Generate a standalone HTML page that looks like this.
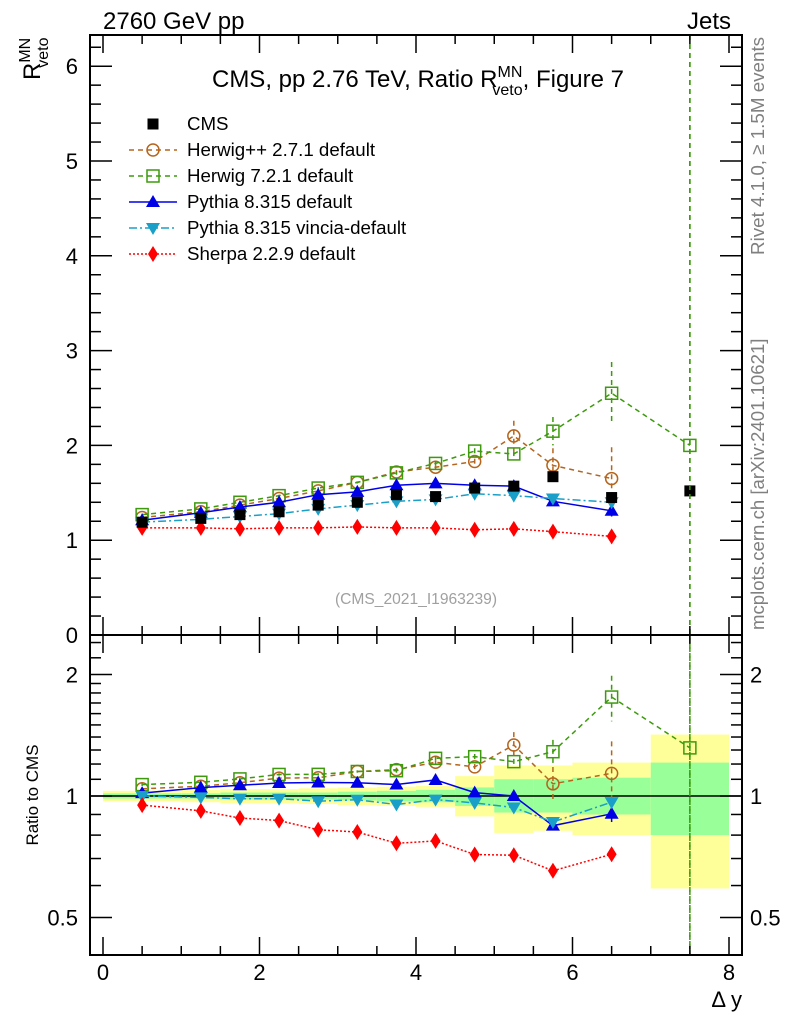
<!DOCTYPE html>
<html><head><meta charset="utf-8"><style>
body{margin:0;background:#fff;width:786px;height:1024px;overflow:hidden}
svg text{font-family:"Liberation Sans",sans-serif}
</style></head><body>
<svg id="chart" width="786" height="1024" xmlns="http://www.w3.org/2000/svg">
<g id="bands"></g><g id="grid"></g><g id="series"></g><g id="axes"></g>
<text x="103" y="29" font-size="24">2760 GeV pp</text>
<text x="731" y="29" font-size="24" text-anchor="end">Jets</text>
<text x="418" y="87" font-size="24" text-anchor="middle">CMS, pp 2.76 TeV, Ratio R<tspan font-size="16" dy="-10">MN</tspan><tspan font-size="16" dx="-30" dy="18">veto</tspan><tspan dy="-8">, Figure 7</tspan></text>
<text transform="translate(40,80) rotate(-90)" font-size="24">R<tspan font-size="16" dy="-10">MN</tspan><tspan font-size="16" dx="-30" dy="18">veto</tspan></text>
<text transform="translate(38,795) rotate(-90)" font-size="17" text-anchor="middle">Ratio to CMS</text>
<text x="742" y="1007" font-size="22" text-anchor="end">Δ y</text>
<text x="416" y="604" font-size="15.6" fill="#a0a0a0" text-anchor="middle">(CMS_2021_I1963239)</text>
<text transform="translate(764,255) rotate(-90)" font-size="18.8" fill="#808080">Rivet 4.1.0, ≥ 1.5M events</text>
<text transform="translate(764,630) rotate(-90)" font-size="18.6" fill="#808080">mcplots.cern.ch [arXiv:2401.10621]</text>
<g id="legend"></g>
</svg>
<script>
const xCenters=[0.5,1.25,1.75,2.25,2.75,3.25,3.75,4.25,4.75,5.25,5.75,6.5,7.5];
const binEdges=[0,1,1.5,2,2.5,3,3.5,4,4.5,5,5.5,6,7,8];
const cmsVals=[1.19,1.23,1.27,1.30,1.37,1.40,1.48,1.46,1.55,1.57,1.67,1.45,1.52];
const herwigppVals=[1.24,1.30,1.37,1.44,1.52,1.61,1.72,1.77,1.83,2.10,1.79,1.65];
const herwigppErr=[0.01,0.01,0.01,0.01,0.01,0.01,0.02,0.02,0.03,0.16,0.18,0.33];
const herwig7Vals=[1.27,1.33,1.40,1.47,1.55,1.61,1.71,1.81,1.94,1.91,2.15,2.55,2.00];
const herwig7Err=[0.01,0.01,0.01,0.01,0.01,0.01,0.02,0.02,0.03,0.03,0.15,0.33,9];
const pythiaVals=[1.21,1.29,1.35,1.40,1.48,1.51,1.58,1.60,1.58,1.57,1.41,1.31];
const pythiaErr=[0.01,0.01,0.01,0.01,0.01,0.01,0.01,0.01,0.02,0.02,0.03,0.06];
const vinciaVals=[1.19,1.22,1.25,1.28,1.33,1.37,1.41,1.43,1.49,1.47,1.44,1.40];
const sherpaVals=[1.13,1.13,1.12,1.13,1.13,1.14,1.13,1.13,1.11,1.12,1.09,1.04];
const totUp=[1.03,1.035,1.04,1.04,1.045,1.05,1.055,1.06,1.12,1.19,1.19,1.21,1.42];
const totDn=[0.97,0.965,0.96,0.96,0.955,0.95,0.945,0.94,0.89,0.81,0.82,0.80,0.59];
const statUp=[1.015,1.015,1.02,1.02,1.02,1.025,1.03,1.035,1.05,1.10,1.10,1.11,1.21];
const statDn=[0.985,0.985,0.98,0.98,0.98,0.975,0.97,0.965,0.945,0.91,0.91,0.90,0.80];
const xTicks=[0,2,4,6,8];
const yTicks=[0,1,2,3,4,5,6];
const rTicks=[0.5,1,2];

const NS="http://www.w3.org/2000/svg";
const L=90,R=742,MT=35,MB=635,RB=955;
const X=v=>103+v*(729-103)/8;
const Y=v=>635-v*94.8;
const RY=v=>796-Math.log2(v)*121.5;
function mk(tag,attrs,parent){const e=document.createElementNS(NS,tag);for(const k in attrs)e.setAttribute(k,attrs[k]);document.getElementById(parent).appendChild(e);return e;}

for(let i=0;i<totUp.length;i++){
  const x0=X(binEdges[i]),x1=X(binEdges[i+1]);
  const a=mk('rect',{x:x0,y:RY(totUp[i]),width:x1-x0,height:RY(totDn[i])-RY(totUp[i]),fill:'#ffff99'},'bands');
  
  
  const b=mk('rect',{x:x0,y:RY(statUp[i]),width:x1-x0,height:RY(statDn[i])-RY(statUp[i]),fill:'#99ff99'},'bands');
  
  
}
mk('line',{x1:L,x2:R,y1:RY(1),y2:RY(1),stroke:'#000','stroke-width':1.5},'bands');

function clampMain(v){return Math.max(MT,Math.min(MB,v));}
function clampR(v){return Math.max(MB,Math.min(RB,v));}
function marker(type,x,y,color,parent,name){
  let e;const s=6;
  if(type==='sq') e=mk('rect',{x:x-5.5,y:y-5.5,width:11,height:11,fill:'#000'},parent);
  else if(type==='osq') e=mk('rect',{x:x-s,y:y-s,width:2*s,height:2*s,fill:'none',stroke:color,'stroke-width':1.5},parent);
  else if(type==='oc') e=mk('circle',{cx:x,cy:y,r:6,fill:'none',stroke:color,'stroke-width':1.5},parent);
  else if(type==='tu') e=mk('polygon',{points:`${x},${y-7} ${x-7},${y+5} ${x+7},${y+5}`,fill:color},parent);
  else if(type==='td') e=mk('polygon',{points:`${x},${y+7} ${x-7},${y-5} ${x+7},${y-5}`,fill:color},parent);
  else e=mk('polygon',{points:`${x},${y-8} ${x-5},${y} ${x},${y+8} ${x+5},${y}`,fill:color},parent);
  
  
  return e;
}
const series=[
 {name:'herwigpp',vals:herwigppVals,err:herwigppErr,color:'#b5651d',dash:'5,4',m:'oc',label:'Herwig++ 2.7.1 default'},
 {name:'herwig7',vals:herwig7Vals,err:herwig7Err,color:'#3c9a0c',dash:'5,4',m:'osq',label:'Herwig 7.2.1 default'},
 {name:'pythia',vals:pythiaVals,err:pythiaErr,color:'#0000e6',dash:'',m:'tu',label:'Pythia 8.315 default'},
 {name:'vincia',vals:vinciaVals,err:null,color:'#1aa0c8',dash:'8,3,2,3',m:'td',label:'Pythia 8.315 vincia-default'},
 {name:'sherpa',vals:sherpaVals,err:null,color:'#ff0000',dash:'2,2',m:'dm',label:'Sherpa 2.2.9 default'}
];
series.forEach(s=>{
  const pm=s.vals.map((v,i)=>`${X(xCenters[i])},${Y(v)}`).join(' ');
  const pr=s.vals.map((v,i)=>`${X(xCenters[i])},${RY(v/cmsVals[i])}`).join(' ');
  const l1=mk('polyline',{points:pm,fill:'none',stroke:s.color,'stroke-width':1.5,'stroke-dasharray':s.dash},'series');
  
  
  const l2=mk('polyline',{points:pr,fill:'none',stroke:s.color,'stroke-width':1.5,'stroke-dasharray':s.dash},'series');
  
  
  s.vals.forEach((v,i)=>{
    const x=X(xCenters[i]);
    if(s.err){const e=s.err[i];
      mk('line',{x1:x,x2:x,y1:clampMain(Y(v+e)),y2:clampMain(Y(v-e)),stroke:s.color,'stroke-width':1.5,'stroke-dasharray':s.dash},'series');
      const r=v/cmsVals[i],er=e/cmsVals[i];
      mk('line',{x1:x,x2:x,y1:clampR(RY(r+er)),y2:clampR(RY(Math.max(0.01,r-er))),stroke:s.color,'stroke-width':1.5,'stroke-dasharray':s.dash},'series');
    }
    marker(s.m,x,Y(v),s.color,'series',s.name+'-point');
    marker(s.m,x,RY(v/cmsVals[i]),s.color,'series',s.name+'-ratio-point');
  });
});
cmsVals.forEach((v,i)=>{marker('sq',X(xCenters[i]),Y(v),'#000','series','cms-point');});

const f=mk('rect',{x:L,y:MT,width:R-L,height:RB-MT,fill:'none',stroke:'#000','stroke-width':2},'axes');

mk('line',{x1:L,x2:R,y1:MB,y2:MB,stroke:'#000','stroke-width':2},'axes');
function tick(x1,y1,x2,y2){mk('line',{x1,y1,x2,y2,stroke:'#000','stroke-width':1.5},'axes');}
function txt(x,y,t,anchor,size,name){const e=mk('text',{x,y,'font-size':size,'text-anchor':anchor},'axes');e.textContent=t;}
for(let v=0;v<=8.001;v+=0.5){const maj=xTicks.includes(Math.round(v*10)/10);const x=X(v);const h=maj?18:9;
  tick(x,RB,x,RB-h);tick(x,MB,x,MB-h);tick(x,MB,x,MB+h);tick(x,MT,x,MT+h);}
xTicks.forEach(v=>txt(X(v),980,String(v),'middle',22,'x-tick-label'));
for(let k=0;k<=31;k++){const v=k*0.2;const y=Y(v);if(y<MT)continue;const maj=k%5===0;const h=maj?22:11;tick(L,y,L+h,y);tick(R,y,R-h,y);}
yTicks.forEach(v=>txt(L-12,Y(v)+8,String(v),'end',22,'y-tick-label'));
const rMinor=[0.5,0.6,0.7,0.8,0.9,1,1.1,1.2,1.3,1.4,1.5,1.6,1.7,1.8,1.9,2,2.2,2.4];
rMinor.forEach(v=>{const y=RY(v);if(y<MB||y>RB)return;const h=rTicks.includes(v)?22:11;tick(L,y,L+h,y);tick(R,y,R-h,y);});
rTicks.forEach(v=>{txt(L-12,RY(v)+8,String(v),'end',22,'ratio-tick-label');txt(R+8,RY(v)+8,String(v),'start',22,'ratio-tick-label-right');});
mk('line',{x1:X(7.5),x2:X(7.5),y1:MT,y2:RB,stroke:'#3c9a0c','stroke-width':1.5,'stroke-dasharray':'5,4'},'series');

const rows=[{label:'CMS',m:'sq',color:'#000',dash:null}].concat(series);
rows.forEach((s,i)=>{const y=124+i*26;
  if(s.dash!==null){mk('line',{x1:129,x2:177,y1:y,y2:y,stroke:s.color,'stroke-width':1.5,'stroke-dasharray':s.dash},'legend');}
  marker(s.m,153,y,s.color,'legend','legend-marker');
  const t=mk('text',{x:187,y:y+6,'font-size':18.7},'legend');t.textContent=s.label;
  
  
});
</script>
</body></html>
